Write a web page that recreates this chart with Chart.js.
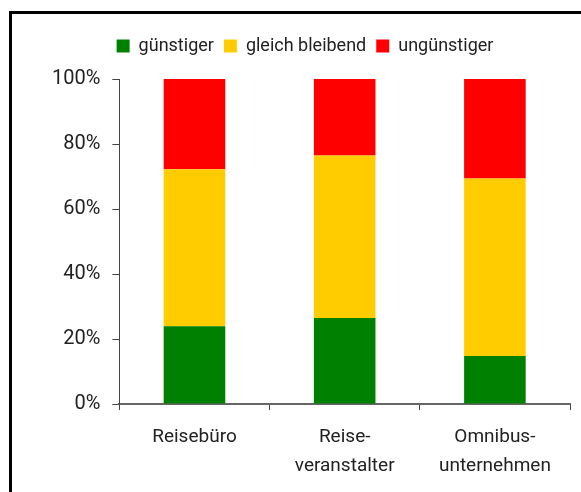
<!DOCTYPE html>
<html>
<head>
<meta charset="utf-8">
<script src="https://cdn.jsdelivr.net/npm/chart.js@4"></script>
<style>
  html, body { margin: 0; padding: 0; background: #fff; }
  #wrap { position: relative; width: 581px; height: 492px; overflow: hidden; }
  #frame { position: absolute; left: 9px; top: 11px; width: 600px; height: 520px; border: 3px solid #000; box-sizing: border-box; }
  canvas { position: absolute; left: 0; top: 0; }
</style>
</head>
<body>
<div id="wrap">
  <div id="frame"></div>
  <canvas id="chart" width="581" height="492"></canvas>
</div>
<script>
// Kategorien und Werte (Anteile in %)
const categories = ['Reisebüro', ['Reise-', 'veranstalter'], ['Omnibus-', 'unternehmen']];
const seriesNames = ['günstiger', 'gleich bleibend', 'ungünstiger'];
const guenstiger = [23.9, 26.5, 14.8];
const gleichBleibend = [48.3, 50.0, 54.6];
const unguenstiger = [27.8, 23.5, 30.6];
const yTicks = [0, 20, 40, 60, 80, 100];

const colors = ['#008000', '#ffcc00', '#ff0000'];

// Abstand zwischen Legende und Diagramm vergroessern
const legendGap = {
    id: 'legendGap',
    beforeInit(chart) {
        const fit = chart.legend.fit;
        chart.legend.fit = function () {
            fit.bind(chart.legend)();
            this.height += 14;
        };
    }
};

new Chart(document.getElementById('chart'), {
    type: 'bar',
    data: {
        labels: categories,
        datasets: [guenstiger, gleichBleibend, unguenstiger].map((d, i) => ({
            label: seriesNames[i],
            data: d,
            backgroundColor: colors[i],
            borderWidth: 0,
            barPercentage: 0.41,
            categoryPercentage: 1
        }))
    },
    plugins: [legendGap],
    options: {
        responsive: false,
        animation: false,
        layout: { padding: { left: 40, right: 11, top: 27, bottom: -1 } },
        plugins: {
            legend: {
                position: 'top',
                labels: {
                    font: { family: 'Roboto', size: 18 },
                    color: '#222',
                    boxWidth: 13,
                    boxHeight: 13,
                    padding: 10
                }
            },
            tooltip: { enabled: false }
        },
        scales: {
            x: {
                stacked: true,
                grid: { display: true, drawOnChartArea: false, offset: true, tickLength: 6, color: '#444' },
                border: { color: '#666', width: 2 },
                ticks: { font: { family: 'Roboto', size: 19, lineHeight: 1.5 }, color: '#222', padding: 13, maxRotation: 0 }
            },
            y: {
                stacked: true,
                min: 0,
                max: 100,
                afterBuildTicks: axis => { axis.ticks = yTicks.map(v => ({ value: v })); },
                grid: { display: true, drawOnChartArea: false, tickLength: 7, color: '#444' },
                border: { color: '#444', width: 1 },
                ticks: { font: { family: 'Roboto', size: 20 }, color: '#222', padding: 12, callback: v => v + '%' }
            }
        }
    }
});
</script>
</body>
</html>
